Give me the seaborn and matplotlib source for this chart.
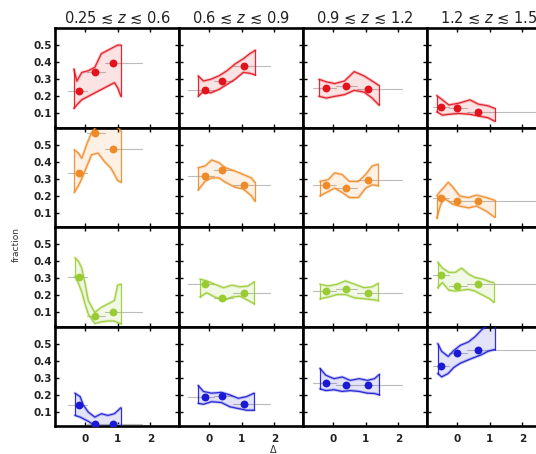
import matplotlib
matplotlib.use("Agg")
import matplotlib.pyplot as plt
import seaborn as sns
import pandas as pd

sns.set_theme(style="white")
plt.rcParams["font.family"] = ["DejaVu Sans"]

# ---------------- data ----------------
z_titles = [r"0.25 ≲ $z$ ≲ 0.6", r"0.6 ≲ $z$ ≲ 0.9", r"0.9 ≲ $z$ ≲ 1.2", r"1.2 ≲ $z$ ≲ 1.5"]
row_colors = ["#e3121c", "#ef8a26", "#99cc33", "#1a1ad6"]
y_ticks = [0.1, 0.2, 0.3, 0.4, 0.5]
x_ticks = [0, 1, 2]

# x positions of the three points in each redshift column
point_x = [[-0.17, 0.31, 0.87], [-0.12, 0.41, 1.08], [-0.23, 0.40, 1.08], [-0.49, 0.01, 0.64]]
# x-bin edges (grey horizontal bars)
bin_edges = [[-0.53, 0.07, 0.60, 1.74], [-0.63, 0.15, 0.75, 1.87],
             [-0.60, 0.10, 0.75, 2.11], [-0.75, -0.25, 0.30, 3.20]]

# point fractions  [row][col]
frac_red = [[0.23, 0.34, 0.395], [0.24, 0.29, 0.38], [0.25, 0.26, 0.245], [0.135, 0.13, 0.11]]
frac_orange = [[0.335, 0.565, 0.475], [0.315, 0.35, 0.265], [0.265, 0.245, 0.29], [0.185, 0.173, 0.17]]
frac_green = [[0.305, 0.08, 0.105], [0.267, 0.182, 0.212], [0.227, 0.237, 0.214], [0.32, 0.257, 0.267]]
frac_blue = [[0.14, 0.031, 0.027], [0.188, 0.192, 0.149], [0.267, 0.257, 0.257], [0.369, 0.443, 0.463]]

# running bands: x, upper, lower  per column
band_x_red = [[-0.34, -0.25, -0.1, 0.1, 0.3, 0.5, 0.7, 0.9, 1.0, 1.1],
              [-0.33, -0.17, 0.05, 0.3, 0.55, 0.8, 1.05, 1.25, 1.42],
              [-0.43, -0.2, 0.05, 0.35, 0.65, 0.95, 1.2, 1.4],
              [-0.62, -0.45, -0.25, 0.05, 0.4, 0.65, 0.95, 1.15]]
band_hi_red = [[0.36, 0.29, 0.34, 0.35, 0.37, 0.45, 0.47, 0.49, 0.50, 0.50],
               [0.32, 0.29, 0.30, 0.32, 0.35, 0.39, 0.42, 0.45, 0.47],
               [0.30, 0.285, 0.275, 0.29, 0.345, 0.32, 0.29, 0.265],
               [0.205, 0.18, 0.15, 0.16, 0.18, 0.155, 0.145, 0.13]]
band_lo_red = [[0.13, 0.15, 0.18, 0.20, 0.22, 0.24, 0.26, 0.28, 0.25, 0.20],
               [0.20, 0.23, 0.22, 0.24, 0.27, 0.30, 0.34, 0.335, 0.325],
               [0.20, 0.19, 0.20, 0.21, 0.235, 0.225, 0.19, 0.15],
               [0.11, 0.09, 0.095, 0.10, 0.095, 0.085, 0.075, 0.055]]

band_x_orange = [[-0.33, -0.2, -0.1, 0.05, 0.2, 0.4, 0.6, 0.8, 1.0, 1.1],
                 [-0.33, -0.12, 0.08, 0.3, 0.5, 0.8, 1.05, 1.3, 1.4],
                 [-0.4, -0.15, 0.05, 0.28, 0.5, 0.78, 1.0, 1.2, 1.38],
                 [-0.62, -0.5, -0.4, -0.27, -0.12, 0.08, 0.35, 0.6, 0.9, 1.15]]
band_hi_orange = [[0.47, 0.45, 0.42, 0.50, 0.57, 0.62, 0.63, 0.63, 0.60, 0.58],
                  [0.365, 0.375, 0.41, 0.395, 0.365, 0.345, 0.325, 0.305, 0.28],
                  [0.285, 0.295, 0.335, 0.325, 0.285, 0.285, 0.325, 0.375, 0.385],
                  [0.20, 0.23, 0.25, 0.28, 0.25, 0.20, 0.19, 0.205, 0.19, 0.175]]
band_lo_orange = [[0.22, 0.26, 0.30, 0.37, 0.44, 0.45, 0.40, 0.36, 0.29, 0.28],
                  [0.235, 0.285, 0.305, 0.305, 0.28, 0.25, 0.24, 0.20, 0.17],
                  [0.20, 0.225, 0.245, 0.22, 0.19, 0.19, 0.245, 0.265, 0.26],
                  [0.07, 0.15, 0.185, 0.17, 0.15, 0.14, 0.13, 0.14, 0.11, 0.075]]

band_x_green = [[-0.31, -0.2, -0.1, 0.0, 0.1, 0.3, 0.5, 0.7, 0.9, 1.0, 1.1],
                [-0.28, -0.07, 0.18, 0.45, 0.7, 0.95, 1.2, 1.39],
                [-0.4, -0.14, 0.12, 0.38, 0.67, 0.95, 1.2, 1.38],
                [-0.59, -0.45, -0.25, -0.05, 0.14, 0.35, 0.55, 0.8, 1.0, 1.12]]
band_hi_green = [[0.42, 0.40, 0.36, 0.27, 0.17, 0.10, 0.13, 0.15, 0.17, 0.26, 0.265],
                 [0.295, 0.285, 0.265, 0.245, 0.26, 0.25, 0.255, 0.28],
                 [0.265, 0.255, 0.265, 0.285, 0.265, 0.245, 0.25, 0.27],
                 [0.395, 0.36, 0.335, 0.335, 0.36, 0.325, 0.305, 0.295, 0.28, 0.275]]
band_lo_green = [[0.31, 0.27, 0.22, 0.15, 0.09, 0.035, 0.045, 0.05, 0.05, 0.04, 0.035],
                 [0.19, 0.215, 0.19, 0.17, 0.19, 0.195, 0.17, 0.15],
                 [0.18, 0.19, 0.205, 0.205, 0.185, 0.18, 0.175, 0.17],
                 [0.245, 0.275, 0.23, 0.225, 0.23, 0.235, 0.225, 0.20, 0.18, 0.16]]

band_x_blue = [[-0.31, -0.15, -0.05, 0.1, 0.3, 0.5, 0.7, 0.9, 1.1],
               [-0.33, -0.17, 0.08, 0.38, 0.64, 0.9, 1.15, 1.38],
               [-0.4, -0.22, 0.03, 0.28, 0.53, 0.8, 1.05, 1.27, 1.42],
               [-0.59, -0.47, -0.27, -0.1, 0.1, 0.35, 0.55, 0.75, 0.95, 1.15]]
band_hi_blue = [[0.21, 0.19, 0.14, 0.10, 0.07, 0.09, 0.08, 0.09, 0.125],
                [0.255, 0.22, 0.21, 0.215, 0.20, 0.18, 0.19, 0.21],
                [0.355, 0.315, 0.295, 0.305, 0.285, 0.295, 0.285, 0.295, 0.32],
                [0.50, 0.455, 0.425, 0.46, 0.49, 0.51, 0.54, 0.58, 0.61, 0.62]]
band_lo_blue = [[0.08, 0.07, 0.06, 0.045, 0.02, 0.01, 0.01, 0.01, 0.01],
                [0.15, 0.145, 0.16, 0.155, 0.13, 0.12, 0.11, 0.11],
                [0.235, 0.225, 0.23, 0.22, 0.225, 0.22, 0.21, 0.208, 0.20],
                [0.325, 0.305, 0.325, 0.36, 0.385, 0.405, 0.42, 0.435, 0.455, 0.465]]

fracs = [frac_red, frac_orange, frac_green, frac_blue]
band_x = [band_x_red, band_x_orange, band_x_green, band_x_blue]
band_hi = [band_hi_red, band_hi_orange, band_hi_green, band_hi_blue]
band_lo = [band_lo_red, band_lo_orange, band_lo_green, band_lo_blue]

# ---------------- layout ----------------
W, H = 536, 454
fig = plt.figure(figsize=(W / 100, H / 100), dpi=100)
lefts = [55, 179, 303, 427]
tops = [28, 127.5, 227, 326.5]
pw, ph = 124, 99.5

for r in range(4):
    for c in range(4):
        ax = fig.add_axes([lefts[c] / W, 1 - (tops[r] + ph) / H, pw / W, ph / H])
        col = row_colors[r]
        xs = point_x[c]
        ys = fracs[r][c]
        e = bin_edges[c]
        # grey x-bins
        for i in range(3):
            ax.plot([e[i], e[i + 1]], [ys[i], ys[i]], color="#bcbcbc", lw=0.8, zorder=1)
        # band
        bx, bh, bl = band_x[r][c], band_hi[r][c], band_lo[r][c]
        ax.fill_between(bx, bl, bh, color=col, alpha=0.12, lw=0, zorder=2)
        dfh = pd.DataFrame({"x": bx, "y": bh})
        dfl = pd.DataFrame({"x": bx, "y": bl})
        for dfb in (dfh, dfl):
            sns.lineplot(data=dfb, x="x", y="y", ax=ax, color=col, lw=2.2, sort=False,
                         estimator=None, zorder=3, alpha=0.25)
            sns.lineplot(data=dfb, x="x", y="y", ax=ax, color=col, lw=0.9, sort=False,
                         estimator=None, zorder=3, alpha=0.9)
        ax.plot([bx[0], bx[0]], [bl[0], bh[0]], color=col, lw=0.9, alpha=0.9, zorder=3)
        ax.plot([bx[-1], bx[-1]], [bl[-1], bh[-1]], color=col, lw=0.9, alpha=0.9, zorder=3)
        dfp = pd.DataFrame({"x": xs, "y": ys})
        sns.scatterplot(data=dfp, x="x", y="y", ax=ax, color=col, s=32,
                        edgecolor=col, linewidth=0, zorder=5)

        ax.set_xlim(-0.92, 2.88)
        ax.set_ylim(0.018, 0.6)
        ax.set_xticks(x_ticks)
        ax.set_yticks(y_ticks)
        ax.set_xlabel("")
        ax.set_ylabel("")
        ax.tick_params(direction="in", length=3, width=1.0, top=True, right=True,
                       bottom=True, left=True, color="black", pad=2,
                       labelsize=7.5, labelcolor="#222222")
        for sp in ax.spines.values():
            sp.set_linewidth(1.9)
            sp.set_color("black")
        if c == 0:
            ax.set_yticklabels([f"{v:.1f}" for v in y_ticks], fontweight="bold")
        else:
            ax.set_yticklabels([])
        if r == 3:
            ax.set_xticklabels([str(v) for v in x_ticks], fontweight="bold")
            ax.tick_params(axis="x", pad=6)
        else:
            ax.set_xticklabels([])
        if r == 0:
            ax.set_title(z_titles[c], fontsize=10.5, pad=4, color="#222222",
                         family=["DejaVu Sans"])

fig.text(16 / W, 1 - 245 / H, "fraction", rotation=90, ha="center", va="center",
         fontsize=6.5, color="#333333")
fig.text(273 / W, 1 - 445 / H, "Δ", ha="center", va="top", fontsize=7, color="#333333")

fig.savefig("out.png", dpi=100)
